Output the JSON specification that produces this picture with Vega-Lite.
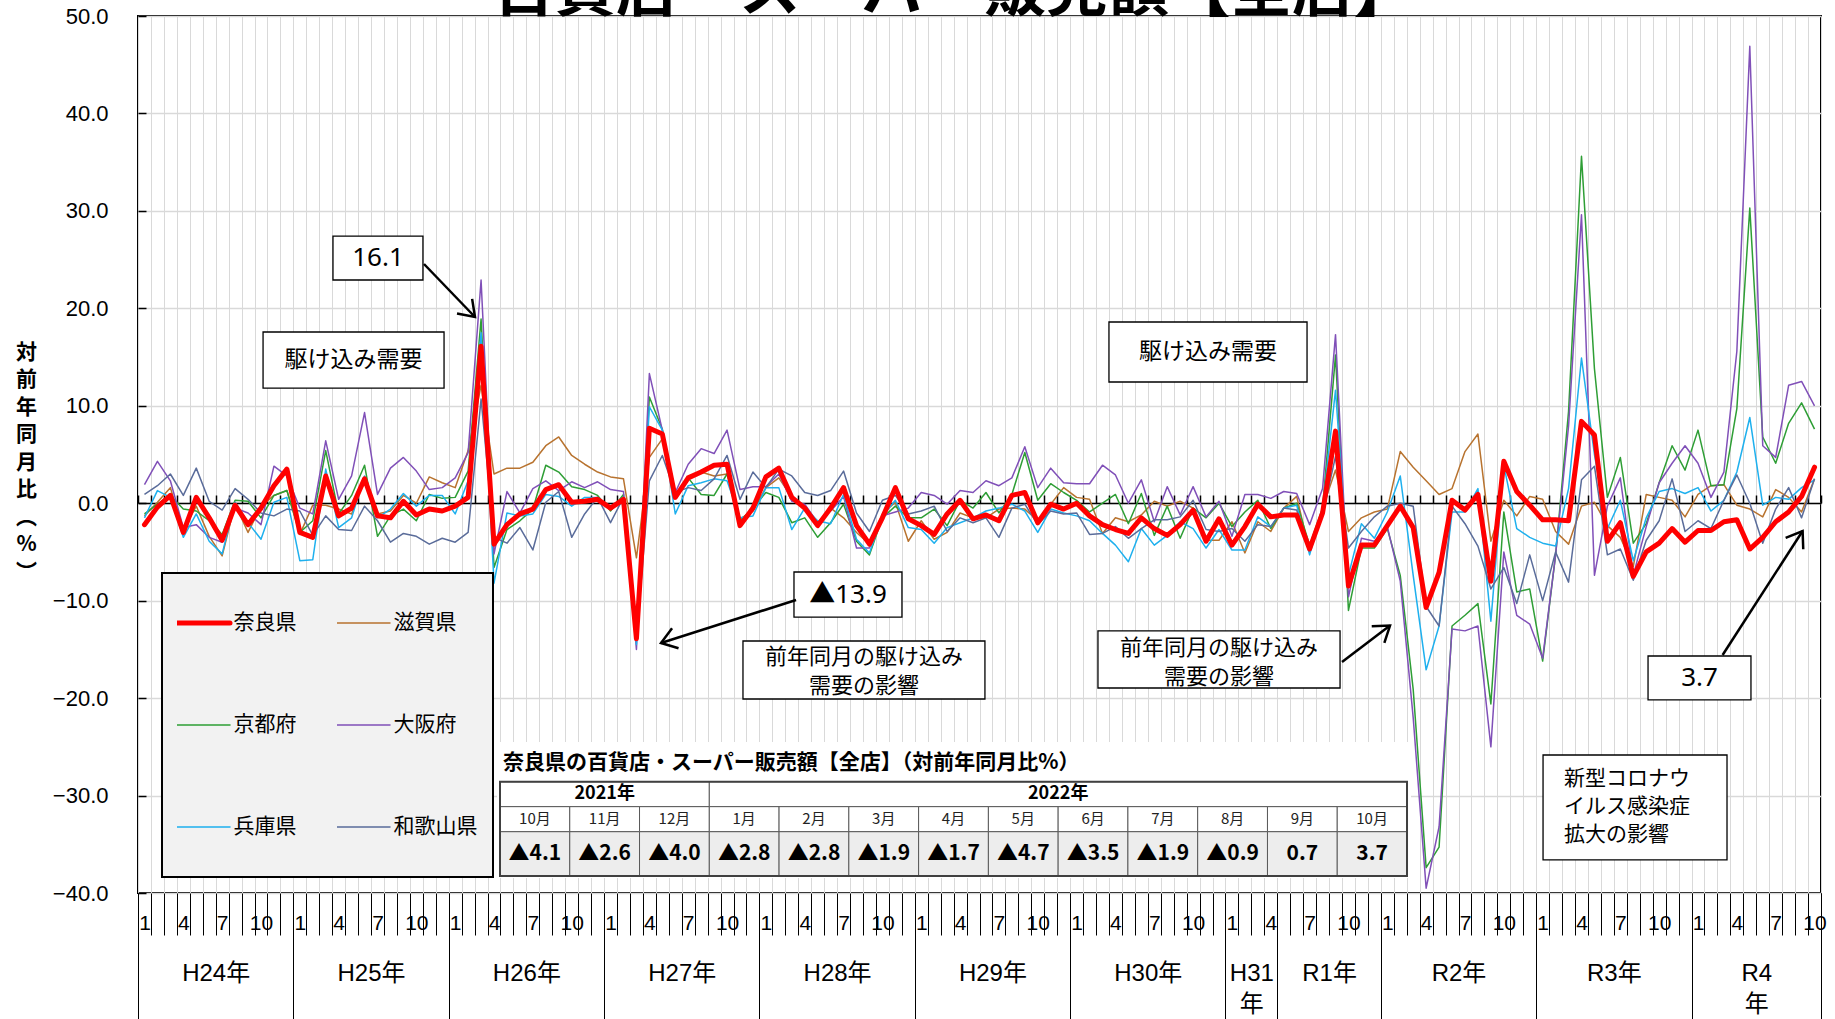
{
"$schema": "https://vega.github.io/schema/vega-lite/v6.json",
"width": 1683,
"height": 877,
"autosize": {"type": "none"},
"padding": {"left": 138, "top": 16, "right": 14, "bottom": 126},
"background": "white",
"config": {"view": {"stroke": "black", "strokeWidth": 2}, "axis": {"labelColor": "black", "tickColor": "black"}},
"datasets": {
"series": [
{"i":1,"奈良県":-2.2,"滋賀県":-1.3,"京都府":-1.1,"大阪府":1.9,"兵庫県":-1.5,"和歌山県":0.9},
{"i":2,"奈良県":-0.4,"滋賀県":0.1,"京都府":-0.1,"大阪府":4.3,"兵庫県":1.3,"和歌山県":1.8},
{"i":3,"奈良県":0.8,"滋賀県":1.6,"京都府":0.8,"大阪府":2.3,"兵庫県":0.6,"和歌山県":3.0},
{"i":4,"奈良県":-3.0,"滋賀県":-2.8,"京都府":-0.6,"大阪府":-2.5,"兵庫県":-3.5,"和歌山県":0.8},
{"i":5,"奈良県":0.6,"滋賀県":-0.3,"京都府":-0.8,"大阪府":-2.2,"兵庫県":-1.1,"和歌山県":3.6},
{"i":6,"奈良県":-1.5,"滋賀県":-3.4,"京都府":-1.8,"大阪府":-3.5,"兵庫県":-3.9,"和歌山県":0.2},
{"i":7,"奈良県":-3.8,"滋賀県":-5.4,"京都府":-3.2,"大阪府":-4.0,"兵庫県":-5.2,"和歌山県":-0.7},
{"i":8,"奈良県":-0.2,"滋賀県":-0.1,"京都府":0.3,"大阪府":-0.5,"兵庫県":0.1,"和歌山県":1.5},
{"i":9,"奈良県":-2.2,"滋賀県":-3.0,"京都府":0.2,"大阪府":-1.0,"兵庫県":-2.0,"和歌山県":0.4},
{"i":10,"奈良県":-0.5,"滋賀県":-0.3,"京都府":-1.5,"大阪府":-2.2,"兵庫県":-3.7,"和歌山県":-1.0},
{"i":11,"奈良県":1.8,"滋賀県":0.8,"京都府":0.8,"大阪府":3.8,"兵庫県":0.1,"和歌山県":-1.3},
{"i":12,"奈良県":3.5,"滋賀県":1.3,"京都府":1.3,"大阪府":2.8,"兵庫県":0.6,"和歌山県":-0.6},
{"i":13,"奈良県":-3.0,"滋賀県":-3.2,"京都府":-3.0,"大阪府":-0.5,"兵庫県":-5.9,"和歌山県":-0.8},
{"i":14,"奈良県":-3.5,"滋賀県":-0.2,"京都府":-1.8,"大阪府":-1.1,"兵庫県":-5.8,"和歌山県":-3.3},
{"i":15,"奈良県":2.8,"滋賀県":-0.2,"京都府":5.4,"大阪府":6.4,"兵庫県":3.5,"和歌山県":-1.3},
{"i":16,"奈良県":-1.3,"滋賀県":-0.6,"京都府":-1.1,"大阪府":0.4,"兵庫県":-2.5,"和歌山県":-2.7},
{"i":17,"奈良県":-0.5,"滋賀県":-1.1,"京都府":0.8,"大阪府":2.8,"兵庫県":-1.5,"和歌山県":-2.8},
{"i":18,"奈良県":2.5,"滋賀県":2.7,"京都府":3.9,"大阪府":9.3,"兵庫県":2.8,"和歌山県":-0.3},
{"i":19,"奈良県":-1.3,"滋賀県":-1.1,"京都府":-3.4,"大阪府":0.9,"兵庫県":-1.5,"和歌山県":-1.8},
{"i":20,"奈良県":-1.5,"滋賀県":-0.8,"京都府":-1.3,"大阪府":3.6,"兵庫県":-0.6,"和歌山県":-4.0},
{"i":21,"奈良県":0.2,"滋賀県":0.8,"京都府":-0.6,"大阪府":4.7,"兵庫県":1.0,"和歌山県":-3.1},
{"i":22,"奈良県":-1.2,"滋賀県":0.0,"京都府":-1.8,"大阪府":3.3,"兵庫県":-0.3,"和歌山県":-3.4},
{"i":23,"奈良県":-0.6,"滋賀県":2.7,"京都府":0.9,"大阪府":1.4,"兵庫県":0.8,"和歌山県":-4.2},
{"i":24,"奈良県":-0.8,"滋賀県":2.1,"京都府":0.5,"大阪府":1.6,"兵庫県":0.8,"和歌山県":-3.6},
{"i":25,"奈良県":-0.3,"滋賀県":1.6,"京都府":0.6,"大阪府":2.6,"兵庫県":-1.1,"和歌山県":-4.0},
{"i":26,"奈良県":0.6,"滋賀県":5.4,"京都府":3.3,"大阪府":5.2,"兵庫県":2.3,"和歌山県":-3.0},
{"i":27,"奈良県":16.1,"滋賀県":12.1,"京都府":18.9,"大阪府":22.9,"兵庫県":17.5,"和歌山県":10.7},
{"i":28,"奈良県":-4.2,"滋賀県":3.0,"京都府":-6.6,"大阪府":-5.2,"兵庫県":-8.2,"和歌山県":-3.5},
{"i":29,"奈良県":-2.2,"滋賀県":3.6,"京都府":-2.7,"大阪府":1.2,"兵庫県":-1.0,"和歌山県":-4.1},
{"i":30,"奈良県":-1.1,"滋賀県":3.6,"京都府":-1.8,"大阪府":-1.0,"兵庫県":-1.3,"和歌山県":-2.5},
{"i":31,"奈良県":-0.6,"滋賀県":4.2,"京都府":-0.6,"大阪府":1.5,"兵庫県":-1.1,"和歌山県":-4.8},
{"i":32,"奈良県":1.4,"滋賀県":5.9,"京都府":3.9,"大阪府":2.3,"兵庫県":0.9,"和歌山県":0.1},
{"i":33,"奈良県":1.9,"滋賀県":6.8,"京都府":3.2,"大阪府":1.3,"兵庫県":0.7,"和歌山県":1.2},
{"i":34,"奈良県":0.1,"滋賀県":4.9,"京都府":1.7,"大阪府":2.2,"兵庫県":-0.3,"和歌山県":-3.5},
{"i":35,"奈良県":0.2,"滋賀県":4.0,"京都府":1.4,"大阪府":1.6,"兵庫県":0.6,"和歌山県":-1.1},
{"i":36,"奈良県":0.4,"滋賀県":3.2,"京都府":0.8,"大阪府":2.2,"兵庫県":0.6,"和歌山県":0.6},
{"i":37,"奈良県":-0.5,"滋賀県":2.7,"京都府":-0.8,"大阪府":1.4,"兵庫県":-0.5,"和歌山県":-2.0},
{"i":38,"奈良県":0.4,"滋賀県":2.5,"京都府":0.9,"大阪府":1.2,"兵庫県":0.6,"和歌山県":0.6},
{"i":39,"奈良県":-13.9,"滋賀県":-5.6,"京都府":-13.5,"大阪府":-15.0,"兵庫県":-14.5,"和歌山県":-14.0},
{"i":40,"奈良県":7.7,"滋賀県":4.7,"京都府":10.9,"大阪府":13.3,"兵庫県":9.9,"和歌山県":2.3},
{"i":41,"奈良県":7.1,"滋賀県":6.6,"京都府":7.6,"大阪府":7.5,"兵庫県":7.5,"和歌山県":4.9},
{"i":42,"奈良県":0.6,"滋賀県":0.8,"京都府":0.8,"大阪府":1.1,"兵庫県":-1.1,"和歌山県":1.1},
{"i":43,"奈良県":2.6,"滋賀県":2.6,"京都府":2.6,"大阪府":4.0,"兵庫県":1.8,"和歌山県":1.6},
{"i":44,"奈良県":3.2,"滋賀県":3.2,"京都府":0.9,"大阪府":5.6,"兵庫県":2.1,"和歌山県":1.3},
{"i":45,"奈良県":3.9,"滋賀県":2.8,"京都府":0.8,"大阪府":5.1,"兵庫県":2.5,"和歌山県":2.5},
{"i":46,"奈良県":4.0,"滋賀県":3.0,"京都府":3.0,"大阪府":7.5,"兵庫県":2.3,"和歌山県":4.9},
{"i":47,"奈良県":-2.3,"滋賀県":-1.6,"京都府":-1.8,"大阪府":1.4,"兵庫県":-1.5,"和歌山県":0.4},
{"i":48,"奈良県":-0.5,"滋賀県":-0.8,"京都府":-0.5,"大阪府":1.7,"兵庫県":-1.3,"和歌山県":3.2},
{"i":49,"奈良県":2.7,"滋賀県":1.6,"京都府":1.1,"大阪府":1.7,"兵庫県":1.6,"和歌山県":1.6},
{"i":50,"奈良県":3.6,"滋賀県":2.6,"京都府":0.6,"大阪府":3.0,"兵庫県":1.6,"和歌山県":3.5},
{"i":51,"奈良県":0.6,"滋賀県":0.6,"京都府":-2.0,"大阪府":0.2,"兵庫県":-2.7,"和歌山県":2.8},
{"i":52,"奈良県":-0.5,"滋賀県":-0.5,"京都府":-1.5,"大阪府":-0.1,"兵庫県":-0.5,"和歌山県":1.1},
{"i":53,"奈良県":-2.3,"滋賀県":-2.0,"京都府":-3.5,"大阪府":-2.0,"兵庫県":-1.8,"和歌山県":0.8},
{"i":54,"奈良県":-0.5,"滋賀県":-0.5,"京都府":-2.0,"大阪府":-0.8,"兵庫県":-2.1,"和歌山県":1.3},
{"i":55,"奈良県":1.6,"滋賀県":-1.5,"京都府":-0.1,"大阪府":0.7,"兵庫県":0.9,"和歌山県":3.3},
{"i":56,"奈良県":-2.3,"滋賀県":-3.0,"京都府":-3.9,"大阪府":-4.6,"兵庫県":-3.7,"和歌山県":-1.0},
{"i":57,"奈良県":-4.2,"滋賀県":-4.2,"京都府":-5.3,"大阪府":-4.6,"兵庫県":-5.1,"和歌山県":-2.9},
{"i":58,"奈良県":-1.5,"滋賀県":-1.1,"京都府":-1.5,"大阪府":-1.3,"兵庫県":-1.3,"和歌山県":0.3},
{"i":59,"奈良県":1.6,"滋賀県":0.1,"京都府":-0.3,"大阪府":-0.9,"兵庫県":0.3,"和歌山県":0.8},
{"i":60,"奈良県":-1.6,"滋賀県":-3.9,"京都府":-1.5,"大阪府":-0.5,"兵庫県":-2.5,"和歌山県":-1.1},
{"i":61,"奈良県":-2.3,"滋賀県":-1.8,"京都府":-1.5,"大阪府":1.1,"兵庫県":-2.7,"和歌山県":-0.8},
{"i":62,"奈良県":-3.2,"滋賀県":-3.7,"京都府":-0.6,"大阪府":0.8,"兵庫県":-4.1,"和歌山県":-0.3},
{"i":63,"奈良県":-1.1,"滋賀県":-3.0,"京都府":-2.3,"大阪府":-0.1,"兵庫県":-2.5,"和歌山県":-2.9},
{"i":64,"奈良県":0.3,"滋賀県":-1.0,"京都府":0.3,"大阪府":1.3,"兵庫県":-2.0,"和歌山県":-1.5},
{"i":65,"奈良県":-1.6,"滋賀県":-1.5,"京都府":-0.5,"大阪府":1.1,"兵庫県":-1.5,"和歌山県":-2.0},
{"i":66,"奈良県":-1.2,"滋賀県":-1.5,"京都府":1.1,"大阪府":2.3,"兵庫県":-0.8,"和歌山県":-1.5},
{"i":67,"奈良県":-1.8,"滋賀県":-0.6,"京都府":-1.0,"大阪府":1.8,"兵庫県":-0.5,"和歌山県":-3.5},
{"i":68,"奈良県":0.8,"滋賀県":-0.5,"京都府":0.9,"大阪府":2.6,"兵庫県":-0.1,"和歌山県":-0.5},
{"i":69,"奈良県":1.1,"滋賀県":-0.6,"京都府":5.2,"大阪府":5.8,"兵庫県":-0.8,"和歌山県":-0.1},
{"i":70,"奈良県":-2.0,"滋賀県":-1.8,"京都府":0.3,"大阪府":1.6,"兵庫県":-3.0,"和歌山県":-2.2},
{"i":71,"奈良県":-0.1,"滋賀県":-0.1,"京都府":2.0,"大阪府":3.6,"兵庫県":-0.6,"和歌山県":-0.8},
{"i":72,"奈良県":-0.6,"滋賀県":1.6,"京都府":1.1,"大阪府":2.1,"兵庫県":-1.0,"和歌山県":-1.1},
{"i":73,"奈良県":0.0,"滋賀県":0.6,"京都府":0.3,"大阪府":2.0,"兵庫県":-1.3,"和歌山県":-1.0},
{"i":74,"奈良県":-1.3,"滋賀県":0.4,"京都府":-0.9,"大阪府":2.0,"兵庫県":-1.8,"和歌山県":-3.2},
{"i":75,"奈良県":-2.2,"滋賀県":-3.1,"京都府":0.0,"大阪府":3.9,"兵庫県":-3.1,"和歌山県":-3.1},
{"i":76,"奈良県":-2.7,"滋賀県":-1.5,"京都府":0.9,"大阪府":2.9,"兵庫県":-4.3,"和歌山県":-2.4},
{"i":77,"奈良県":-3.1,"滋賀県":-1.9,"京都府":-2.1,"大阪府":0.0,"兵庫県":-6.0,"和歌山県":-3.6},
{"i":78,"奈良県":-1.5,"滋賀県":-1.2,"京都府":1.0,"大阪府":2.4,"兵庫県":-2.6,"和歌山県":-2.6},
{"i":79,"奈良県":-2.6,"滋賀県":0.2,"京都府":-3.3,"大阪府":-1.9,"兵庫県":-4.3,"和歌山県":-1.7},
{"i":80,"奈良県":-3.3,"滋賀県":-0.3,"京都府":-0.3,"大阪府":1.7,"兵庫県":-3.3,"和歌山県":-1.7},
{"i":81,"奈良県":-2.2,"滋賀県":0.2,"京都府":-3.6,"大阪府":-1.2,"兵庫県":-1.9,"和歌山県":-1.4},
{"i":82,"奈良県":-0.7,"滋賀県":-0.5,"京都府":-0.5,"大阪府":1.7,"兵庫県":-2.6,"和歌山県":0.3},
{"i":83,"奈良県":-3.9,"滋賀県":-3.8,"京都府":-1.5,"大阪府":-1.4,"兵庫県":-4.6,"和歌山県":-2.7},
{"i":84,"奈良県":-1.6,"滋賀県":-3.8,"京都府":0.0,"大阪府":0.2,"兵庫県":-2.7,"和歌山県":-2.9},
{"i":85,"奈良県":-4.3,"滋賀県":-1.9,"京都府":-2.4,"大阪府":-3.4,"兵庫県":-4.8,"和歌山県":-2.6},
{"i":86,"奈良県":-2.4,"滋賀県":-5.1,"京都府":-0.9,"大阪府":0.9,"兵庫県":-4.8,"和歌山県":-3.9},
{"i":87,"奈良県":-0.1,"滋賀県":-1.9,"京都府":0.3,"大阪府":0.9,"兵庫県":-1.4,"和歌山県":-2.2},
{"i":88,"奈良県":-1.4,"滋賀県":-2.9,"京都府":-2.6,"大阪府":0.5,"兵庫県":-2.4,"和歌山県":-2.4},
{"i":89,"奈良県":-1.2,"滋賀県":-0.5,"京都府":-0.5,"大阪府":1.2,"兵庫県":-0.5,"和歌山県":-0.5},
{"i":90,"奈良県":-1.2,"滋賀県":0.7,"京都府":0.0,"大阪府":1.0,"兵庫県":-0.2,"和歌山県":-0.7},
{"i":91,"奈良県":-4.7,"滋賀県":-5.0,"京都府":-4.3,"大阪府":-2.2,"兵庫県":-5.3,"和歌山県":-4.6},
{"i":92,"奈良県":-1.0,"滋賀県":-0.5,"京都府":-0.5,"大阪府":1.5,"兵庫県":-0.5,"和歌山県":-1.2},
{"i":93,"奈良県":7.4,"滋賀県":3.4,"京都府":15.2,"大阪府":17.3,"兵庫県":11.6,"和歌山県":4.8},
{"i":94,"奈良県":-8.5,"滋賀県":-2.9,"京都府":-11.0,"大阪府":-9.6,"兵庫県":-7.4,"和歌山県":-4.6},
{"i":95,"奈良県":-4.3,"滋賀県":-1.5,"京都府":-4.6,"大阪府":-3.6,"兵庫県":-2.1,"和歌山県":-2.9},
{"i":96,"奈良県":-4.3,"滋賀県":-0.9,"京都府":-4.6,"大阪府":-3.9,"兵庫県":-3.6,"和歌山県":-1.4},
{"i":97,"奈良県":-2.3,"滋賀県":-0.6,"京都府":-2.6,"大阪府":-2.4,"兵庫県":-0.9,"和歌山県":-0.3},
{"i":98,"奈良県":-0.3,"滋賀県":5.3,"京都府":-7.4,"大阪府":-8.0,"兵庫県":2.8,"和歌山県":0.0},
{"i":99,"奈良県":-2.5,"滋賀県":3.7,"京都府":-19.1,"大阪府":-22.0,"兵庫県":-7.4,"和歌山県":-0.3},
{"i":100,"奈良県":-10.7,"滋賀県":2.3,"京都府":-37.4,"大阪府":-39.5,"兵庫県":-17.1,"和歌山県":-10.6},
{"i":101,"奈良県":-7.1,"滋賀県":0.9,"京都府":-35.3,"大阪府":-33.2,"兵庫県":-12.6,"和歌山県":-12.6},
{"i":102,"奈良県":0.3,"滋賀県":1.5,"京都府":-12.6,"大阪府":-12.9,"兵庫県":-0.9,"和歌山県":-0.3},
{"i":103,"奈良県":-0.7,"滋賀県":5.3,"京都府":-11.5,"大阪府":-13.1,"兵庫県":-0.9,"和歌山県":-2.1},
{"i":104,"奈良県":0.9,"滋賀県":7.1,"京都府":-10.3,"大阪府":-12.6,"兵庫県":1.5,"和歌山県":-4.4},
{"i":105,"奈良県":-8.0,"滋賀県":-3.9,"京都府":-20.6,"大阪府":-25.0,"兵庫県":-12.1,"和歌山県":-8.8},
{"i":106,"奈良県":4.3,"滋賀県":0.3,"京都府":-0.9,"大阪府":-5.0,"兵庫県":3.9,"和歌山県":-6.6},
{"i":107,"奈良県":1.2,"滋賀県":-1.3,"京都府":-9.1,"大阪府":-11.5,"兵庫県":-2.6,"和歌山県":-10.3},
{"i":108,"奈良県":-0.2,"滋賀県":0.7,"京都府":-8.8,"大阪府":-12.4,"兵庫県":-3.5,"和歌山県":-5.3},
{"i":109,"奈良県":-1.7,"滋賀県":0.4,"京都府":-16.2,"大阪府":-15.9,"兵庫県":-4.1,"和歌山県":-10.0},
{"i":110,"奈良県":-1.7,"滋賀県":-2.9,"京都府":-5.3,"大阪府":-5.3,"兵庫県":-4.4,"和歌山県":-5.0},
{"i":111,"奈良県":-1.8,"滋賀県":-4.2,"京都府":9.4,"大阪府":7.9,"兵庫県":1.5,"和歌山県":-8.1},
{"i":112,"奈良県":8.4,"滋賀県":-0.3,"京都府":35.6,"大阪府":29.6,"兵庫県":14.9,"和歌山県":2.4},
{"i":113,"奈良県":7.0,"滋賀県":0.1,"京都府":13.8,"大阪府":-7.4,"兵庫県":5.0,"和歌山県":3.8},
{"i":114,"奈良県":-3.9,"滋賀県":-2.3,"京都府":0.6,"大阪府":-0.3,"兵庫県":-2.6,"和歌山県":-5.3},
{"i":115,"奈良県":-2.0,"滋賀県":-3.5,"京都府":4.7,"大阪府":2.6,"兵庫県":0.3,"和歌山県":-4.7},
{"i":116,"奈良県":-7.5,"滋賀県":-6.5,"京都府":-4.1,"大阪府":-7.4,"兵庫県":-5.9,"和歌山県":-7.9},
{"i":117,"奈良県":-5.0,"滋賀県":0.9,"京都府":-2.1,"大阪府":-2.4,"兵庫県":-1.5,"和歌山県":-3.8},
{"i":118,"奈良県":-4.1,"滋賀県":0.6,"京都府":2.1,"大阪府":2.1,"兵庫県":1.2,"和歌山県":-1.8},
{"i":119,"奈良県":-2.6,"滋賀県":0.3,"京都府":5.9,"大阪府":4.1,"兵庫県":1.5,"和歌山県":2.5},
{"i":120,"奈良県":-4.0,"滋賀県":-1.4,"京都府":3.4,"大阪府":5.9,"兵庫県":1.0,"和歌山県":-2.9},
{"i":121,"奈良県":-2.8,"滋賀県":0.9,"京都府":7.5,"大阪府":4.1,"兵庫県":1.6,"和歌山県":-1.8},
{"i":122,"奈良県":-2.8,"滋賀県":1.8,"京都府":1.8,"大阪府":0.6,"兵庫県":-0.8,"和歌山県":-2.6},
{"i":123,"奈良県":-1.9,"滋賀県":1.9,"京都府":1.9,"大阪府":3.2,"兵庫県":0.3,"和歌山県":0.3},
{"i":124,"奈良県":-1.7,"滋賀県":-0.2,"京都府":9.7,"大阪府":15.6,"兵庫県":3.2,"和歌山県":2.9},
{"i":125,"奈良県":-4.7,"滋賀県":-0.6,"京都府":30.3,"大阪府":46.9,"兵庫県":8.8,"和歌山県":0.0},
{"i":126,"奈良県":-3.5,"滋賀県":-1.4,"京都府":6.8,"大阪府":5.9,"兵庫県":-0.2,"和歌山県":-4.1},
{"i":127,"奈良県":-1.9,"滋賀県":1.4,"京都府":4.1,"大阪府":4.7,"兵庫県":0.6,"和歌山県":-0.6},
{"i":128,"奈良県":-0.9,"滋賀県":0.6,"京都府":8.2,"大阪府":12.1,"兵庫県":0.4,"和歌山県":1.6},
{"i":129,"奈良県":0.7,"滋賀県":-0.9,"京都府":10.3,"大阪府":12.5,"兵庫県":1.6,"和歌山県":-1.5},
{"i":130,"奈良県":3.7,"滋賀県":2.5,"京都府":7.6,"大阪府":10.0,"兵庫県":2.4,"和歌山県":2.5}
],
"table": [
{"year":"2021年","month":"10月","value":"▲4.1"},
{"year":"2021年","month":"11月","value":"▲2.6"},
{"year":"2021年","month":"12月","value":"▲4.0"},
{"year":"2022年","month":"1月","value":"▲2.8"},
{"year":"2022年","month":"2月","value":"▲2.8"},
{"year":"2022年","month":"3月","value":"▲1.9"},
{"year":"2022年","month":"4月","value":"▲1.7"},
{"year":"2022年","month":"5月","value":"▲4.7"},
{"year":"2022年","month":"6月","value":"▲3.5"},
{"year":"2022年","month":"7月","value":"▲1.9"},
{"year":"2022年","month":"8月","value":"▲0.9"},
{"year":"2022年","month":"9月","value":"0.7"},
{"year":"2022年","month":"10月","value":"3.7"}
]
},
"layer": [
{
"resolve": {"axis": {"x": "independent"}},
"layer": [
{
"data": {"name": "series"},
"transform": [{"fold": ["滋賀県","京都府","大阪府","兵庫県","和歌山県"], "as": ["s","v"]}],
"mark": {"type": "line", "strokeWidth": 1.5, "strokeJoin": "round"},
"encoding": {
"x": {"field": "i", "type": "quantitative", "scale": {"domain": [0.5,130.5], "nice": false, "zero": false},
 "axis": {"orient": "bottom", "values": [0.5,1.5,2.5,3.5,4.5,5.5,6.5,7.5,8.5,9.5,10.5,11.5,12.5,13.5,14.5,15.5,16.5,17.5,18.5,19.5,20.5,21.5,22.5,23.5,24.5,25.5,26.5,27.5,28.5,29.5,30.5,31.5,32.5,33.5,34.5,35.5,36.5,37.5,38.5,39.5,40.5,41.5,42.5,43.5,44.5,45.5,46.5,47.5,48.5,49.5,50.5,51.5,52.5,53.5,54.5,55.5,56.5,57.5,58.5,59.5,60.5,61.5,62.5,63.5,64.5,65.5,66.5,67.5,68.5,69.5,70.5,71.5,72.5,73.5,74.5,75.5,76.5,77.5,78.5,79.5,80.5,81.5,82.5,83.5,84.5,85.5,86.5,87.5,88.5,89.5,90.5,91.5,92.5,93.5,94.5,95.5,96.5,97.5,98.5,99.5,100.5,101.5,102.5,103.5,104.5,105.5,106.5,107.5,108.5,109.5,110.5,111.5,112.5,113.5,114.5,115.5,116.5,117.5,118.5,119.5,120.5,121.5,122.5,123.5,124.5,125.5,126.5,127.5,128.5,129.5,130.5],
 "grid": true, "gridColor": "#D9D9D9", "gridWidth": 1, "ticks": true, "tickSize": 42, "tickColor": "black", "tickWidth": 1, "labels": false, "domain": false, "title": null}},
"y": {"field": "v", "type": "quantitative", "scale": {"domain": [-40,50], "nice": false, "zero": false},
 "axis": {"values": [-40,-30,-20,-10,0,10,20,30,40,50], "format": ".1f", "grid": true, "gridColor": "#D9D9D9", "gridWidth": 1.5, "domain": false, "ticks": true, "tickSize": -8, "tickColor": "black", "tickWidth": 1.5, "labelFont": "Liberation Sans", "labelFontSize": 22, "labelColor": "black", "labelPadding": 38, "labelFlush": false, "labelOverlap": false,
 "title": ["対","前","年","同","月","比","︵","%","︶"], "titleAngle": 0, "titleX": -112, "titleY": 336, "titleAlign": "center", "titleBaseline": "middle", "titleFont": "Noto Sans CJK JP", "titleFontSize": 21, "titleFontWeight": "bold", "titleLineHeight": 27.5, "titleColor": "black"}},
"color": {"field": "s", "type": "nominal",
 "scale": {"domain": ["奈良県","滋賀県","京都府","大阪府","兵庫県","和歌山県"], "range": ["#FF0000","#B8732F","#2E9E35","#8050B8","#1EB0EE","#5A6C9A"]},
 "legend": {"orient": "none", "legendX": 24, "legendY": 557, "columns": 2, "direction": "horizontal", "title": null, "zindex": 1,
  "symbolType": "stroke", "symbolSize": 2809, "symbolStrokeWidth": 1.5, "symbolOffset": 16, "clipHeight": 70,
  "labelFont": "Noto Sans CJK JP", "labelFontSize": 21, "labelColor": "black", "labelOffset": 19.5, "labelBaseline": "middle",
  "rowPadding": 32, "columnPadding": 40, "padding": 15, "fillColor": "#F2F2F2", "strokeColor": "black",
  "encode": {"legend": {"update": {"strokeWidth": {"value": 2}}}, "symbols": {"update": {"strokeWidth": {"signal": "datum.value === '奈良県' ? 5 : 1.5"}, "strokeCap": {"value": "round"}}}}}}
}
},
{
"data": {"name": "series"},
"transform": [{"fold": ["奈良県"], "as": ["s","v"]}],
"mark": {"type": "line", "strokeWidth": 5, "strokeJoin": "round", "strokeCap": "round"},
"encoding": {
"x": {"field": "i", "type": "quantitative", "scale": {"domain": [0.5,130.5], "nice": false, "zero": false},
 "axis": {"orient": "bottom", "values": [1,4,7,10,13,16,19,22,25,28,31,34,37,40,43,46,49,52,55,58,61,64,67,70,73,76,79,82,85,88,91,94,97,100,103,106,109,112,115,118,121,124,127,130],
 "labelExpr": "(datum.value - 1) % 12 + 1", "ticks": false, "tickSize": 0, "domain": false, "grid": false,
 "labelFont": "Liberation Sans", "labelFontSize": 21, "labelColor": "black", "labelPadding": 30, "labelBaseline": "middle", "labelFlush": false, "labelOverlap": false, "title": null}},
"y": {"field": "v", "type": "quantitative", "scale": {"domain": [-40,50], "nice": false, "zero": false}},
"color": {"field": "s", "type": "nominal", "scale": {"domain": ["奈良県","滋賀県","京都府","大阪府","兵庫県","和歌山県"], "range": ["#FF0000","#B8732F","#2E9E35","#8050B8","#1EB0EE","#5A6C9A"]}}
}
},
{
"data": {"values": [{}]},
"mark": {"type": "rect", "fill": "white", "stroke": "black", "strokeWidth": 1.3},
"encoding": {
"x": {"datum": 15.56, "type": "quantitative", "scale": {"domain": [0.5,130.5], "nice": false, "zero": false},
 "axis": {"orient": "bottom", "values": [0.5,12.5,24.5,36.5,48.5,60.5,72.5,84.5,88.5,96.5,108.5,120.5,130.5], "ticks": true, "tickSize": 126, "tickColor": "black", "tickWidth": 1, "labels": false, "domain": false, "grid": false, "title": null}},
"x2": {"datum": 22.51},
"y": {"datum": 27.42, "type": "quantitative", "scale": {"domain": [-40,50], "nice": false, "zero": false}},
"y2": {"datum": 22.91}
}
},
{
"data": {"values": [{}]},
"mark": {"type": "text", "text": "16.1", "font": "Noto Sans", "fontSize": 26, "align": "center", "baseline": "middle", "color": "black"},
"encoding": {
"x": {"datum": 19.04, "type": "quantitative", "scale": {"domain": [0.5,130.5], "nice": false, "zero": false},
 "axis": {"orient": "bottom", "values": [6.5,18.5,30.5,42.5,54.5,66.5,78.5,86.5,92.5,102.5,114.5,125.5],
 "labelExpr": "['H24年','H25年','H26年','H27年','H28年','H29年','H30年',['H31','年'],'R1年','R2年','R3年',['R4','年']][indexof([6.5,18.5,30.5,42.5,54.5,66.5,78.5,86.5,92.5,102.5,114.5,125.5], datum.value)]",
 "ticks": false, "tickSize": 0, "domain": false, "grid": false, "labelFont": "Liberation Sans, Noto Sans CJK JP", "labelFontSize": 24, "labelColor": "black", "labelPadding": 68, "labelBaseline": "top", "labelLineHeight": 31, "labelFlush": false, "labelOverlap": false, "title": null}},
"y": {"datum": 25.17, "type": "quantitative", "scale": {"domain": [-40,50], "nice": false, "zero": false}}
}
},
{
"data": {"values": [{}]},
"mark": {"type": "rect", "fill": "white", "stroke": "black", "strokeWidth": 1.3},
"encoding": {
"x": {"datum": 10.16, "type": "quantitative", "scale": {"domain": [0.5,130.5], "nice": false, "zero": false},
 "axis": {"orient": "top", "offset": -487, "values": [0.5,1.5,2.5,3.5,4.5,5.5,6.5,7.5,8.5,9.5,10.5,11.5,12.5,13.5,14.5,15.5,16.5,17.5,18.5,19.5,20.5,21.5,22.5,23.5,24.5,25.5,26.5,27.5,28.5,29.5,30.5,31.5,32.5,33.5,34.5,35.5,36.5,37.5,38.5,39.5,40.5,41.5,42.5,43.5,44.5,45.5,46.5,47.5,48.5,49.5,50.5,51.5,52.5,53.5,54.5,55.5,56.5,57.5,58.5,59.5,60.5,61.5,62.5,63.5,64.5,65.5,66.5,67.5,68.5,69.5,70.5,71.5,72.5,73.5,74.5,75.5,76.5,77.5,78.5,79.5,80.5,81.5,82.5,83.5,84.5,85.5,86.5,87.5,88.5,89.5,90.5,91.5,92.5,93.5,94.5,95.5,96.5,97.5,98.5,99.5,100.5,101.5,102.5,103.5,104.5,105.5,106.5,107.5,108.5,109.5,110.5,111.5,112.5,113.5,114.5,115.5,116.5,117.5,118.5,119.5,120.5,121.5,122.5,123.5,124.5,125.5,126.5,127.5,128.5,129.5,130.5],
 "ticks": true, "tickSize": 8, "tickColor": "black", "tickWidth": 1.5, "labels": false, "domain": true, "domainColor": "black", "domainWidth": 1.5, "grid": false, "title": null}},
"x2": {"datum": 24.14},
"y": {"datum": 17.57, "type": "quantitative", "scale": {"domain": [-40,50], "nice": false, "zero": false}},
"y2": {"datum": 11.82}
}
},
{
"data": {"values": [{}]},
"mark": {"type": "text", "text": "百貨店・スーパー販売額【全店】", "font": "Noto Sans CJK JP", "fontSize": 61.5, "fontWeight": "bold", "align": "center", "baseline": "alphabetic", "color": "black"},
"encoding": {"x": {"datum": 63.53, "type": "quantitative", "axis": null}, "y": {"datum": 50.56, "type": "quantitative"}}
},
{
"data": {"values": [{}]},
"mark": {"type": "text", "text": "駆け込み需要", "font": "Noto Sans CJK JP", "fontSize": 23, "align": "center", "baseline": "middle", "color": "black"},
"encoding": {"x": {"datum": 17.15, "type": "quantitative", "axis": null}, "y": {"datum": 14.70, "type": "quantitative"}}
},
{
"data": {"values": [{}]},
"mark": {"type": "rect", "fill": "white", "stroke": "black", "strokeWidth": 1.3},
"encoding": {"x": {"datum": 75.5, "type": "quantitative", "axis": null}, "x2": {"datum": 90.8}, "y": {"datum": 18.60, "type": "quantitative"}, "y2": {"datum": 12.44}}
},
{
"data": {"values": [{}]},
"mark": {"type": "text", "text": "駆け込み需要", "font": "Noto Sans CJK JP", "fontSize": 23, "align": "center", "baseline": "middle", "color": "black"},
"encoding": {"x": {"datum": 83.15, "type": "quantitative", "axis": null}, "y": {"datum": 15.52, "type": "quantitative"}}
},
{
"data": {"values": [{}]},
"mark": {"type": "rect", "fill": "white", "stroke": "black", "strokeWidth": 1.3},
"encoding": {"x": {"datum": 51.17, "type": "quantitative", "axis": null}, "x2": {"datum": 59.51}, "y": {"datum": -7.06, "type": "quantitative"}, "y2": {"datum": -11.68}}
},
{
"data": {"values": [{}]},
"mark": {"type": "text", "text": "▲13.9", "font": "Noto Sans, Noto Sans CJK JP", "fontSize": 26, "align": "center", "baseline": "middle", "color": "black"},
"encoding": {"x": {"datum": 55.34, "type": "quantitative", "axis": null}, "y": {"datum": -9.37, "type": "quantitative"}}
},
{
"data": {"values": [{}]},
"mark": {"type": "rect", "fill": "white", "stroke": "black", "strokeWidth": 1.3},
"encoding": {"x": {"datum": 47.23, "type": "quantitative", "axis": null}, "x2": {"datum": 65.92}, "y": {"datum": -14.14, "type": "quantitative"}, "y2": {"datum": -20.09}}
},
{
"data": {"values": [{}]},
"mark": {"type": "text", "text": ["前年同月の駆け込み","需要の影響"], "font": "Noto Sans CJK JP", "fontSize": 22, "lineHeight": 29, "align": "center", "baseline": "middle", "color": "black"},
"encoding": {"x": {"datum": 56.58, "type": "quantitative", "axis": null}, "y": {"datum": -15.78, "type": "quantitative"}}
},
{
"data": {"values": [{}]},
"mark": {"type": "rect", "fill": "white", "stroke": "black", "strokeWidth": 1.3},
"encoding": {"x": {"datum": 74.65, "type": "quantitative", "axis": null}, "x2": {"datum": 93.35}, "y": {"datum": -13.11, "type": "quantitative"}, "y2": {"datum": -18.96}}
},
{
"data": {"values": [{}]},
"mark": {"type": "text", "text": ["前年同月の駆け込み","需要の影響"], "font": "Noto Sans CJK JP", "fontSize": 22, "lineHeight": 29, "align": "center", "baseline": "middle", "color": "black"},
"encoding": {"x": {"datum": 84.0, "type": "quantitative", "axis": null}, "y": {"datum": -14.86, "type": "quantitative"}}
},
{
"data": {"values": [{}]},
"mark": {"type": "rect", "fill": "white", "stroke": "black", "strokeWidth": 1.3},
"encoding": {"x": {"datum": 117.14, "type": "quantitative", "axis": null}, "x2": {"datum": 125.09}, "y": {"datum": -15.68, "type": "quantitative"}, "y2": {"datum": -20.19}}
},
{
"data": {"values": [{}]},
"mark": {"type": "text", "text": "3.7", "font": "Noto Sans", "fontSize": 26, "align": "center", "baseline": "middle", "color": "black"},
"encoding": {"x": {"datum": 121.12, "type": "quantitative", "axis": null}, "y": {"datum": -17.94, "type": "quantitative"}}
},
{
"data": {"values": [{}]},
"mark": {"type": "rect", "fill": "white", "stroke": "black", "strokeWidth": 1.3},
"encoding": {"x": {"datum": 109.03, "type": "quantitative", "axis": null}, "x2": {"datum": 123.24}, "y": {"datum": -25.84, "type": "quantitative"}, "y2": {"datum": -36.61}}
},
{
"data": {"values": [{}]},
"mark": {"type": "text", "text": ["新型コロナウ","イルス感染症","拡大の影響"], "font": "Noto Sans CJK JP", "fontSize": 21, "lineHeight": 28, "align": "left", "baseline": "middle", "color": "black"},
"encoding": {"x": {"datum": 110.65, "type": "quantitative", "axis": null}, "y": {"datum": -28.35, "type": "quantitative"}}
},
{
"data": {"values": [{}]},
"mark": {"type": "rule", "color": "black", "strokeWidth": 2.5},
"encoding": {"x": {"datum": 22.59, "type": "quantitative", "axis": null}, "x2": {"datum": 26.53}, "y": {"datum": 24.55, "type": "quantitative"}, "y2": {"datum": 19.11}}
},
{
"data": {"values": [{}]},
"mark": {"type": "rule", "color": "black", "strokeWidth": 2.5},
"encoding": {"x": {"datum": 51.33, "type": "quantitative", "axis": null}, "x2": {"datum": 40.90}, "y": {"datum": -9.93, "type": "quantitative"}, "y2": {"datum": -14.34}}
},
{
"data": {"values": [{}]},
"mark": {"type": "rule", "color": "black", "strokeWidth": 2.5},
"encoding": {"x": {"datum": 93.50, "type": "quantitative", "axis": null}, "x2": {"datum": 97.21}, "y": {"datum": -16.29, "type": "quantitative"}, "y2": {"datum": -12.55}}
},
{
"data": {"values": [{}]},
"mark": {"type": "rule", "color": "black", "strokeWidth": 2.5},
"encoding": {"x": {"datum": 122.9, "type": "quantitative", "axis": null}, "x2": {"datum": 129.08}, "y": {"datum": -15.58, "type": "quantitative"}, "y2": {"datum": -2.85}}
},
{
"data": {"values": [{}]},
"mark": {"type": "point", "shape": "M -1 -0.7 L 0 0 L -1 0.7", "filled": false, "stroke": "black", "strokeWidth": 2.5, "size": 900, "angle": 46, "opacity": 1},
"encoding": {"x": {"datum": 26.53, "type": "quantitative", "axis": null}, "y": {"datum": 19.11, "type": "quantitative"}}
},
{
"data": {"values": [{}]},
"mark": {"type": "point", "shape": "M -1 -0.7 L 0 0 L -1 0.7", "filled": false, "stroke": "black", "strokeWidth": 2.5, "size": 900, "angle": 162, "opacity": 1},
"encoding": {"x": {"datum": 40.90, "type": "quantitative", "axis": null}, "y": {"datum": -14.34, "type": "quantitative"}}
},
{
"data": {"values": [{}]},
"mark": {"type": "point", "shape": "M -1 -0.7 L 0 0 L -1 0.7", "filled": false, "stroke": "black", "strokeWidth": 2.5, "size": 900, "angle": 323, "opacity": 1},
"encoding": {"x": {"datum": 97.21, "type": "quantitative", "axis": null}, "y": {"datum": -12.55, "type": "quantitative"}}
},
{
"data": {"values": [{}]},
"mark": {"type": "point", "shape": "M -1 -0.7 L 0 0 L -1 0.7", "filled": false, "stroke": "black", "strokeWidth": 2.5, "size": 900, "angle": 303, "opacity": 1},
"encoding": {"x": {"datum": 129.08, "type": "quantitative", "axis": null}, "y": {"datum": -2.85, "type": "quantitative"}}
}
]
},
{
"layer": [
{
"data": {"values": [{}]},
"mark": {"type": "rect", "fill": "white"},
"encoding": {"x": {"datum": 0.457, "type": "quantitative", "scale": {"domain": [-4.6885, 19.4336], "nice": false, "zero": false}, "axis": null}, "x2": {"datum": 13.557}, "y": {"datum": -24.5, "type": "quantitative"}, "y2": {"datum": -38.46}}
},
{
"data": {"values": [{}]},
"mark": {"type": "text", "text": "奈良県の百貨店・スーパー販売額【全店】（対前年同月比%）", "font": "Noto Sans CJK JP", "fontSize": 21, "fontWeight": "bold", "align": "left", "baseline": "middle", "color": "black"},
"encoding": {"x": {"datum": 0.543, "type": "quantitative", "scale": {"domain": [-4.6885, 19.4336], "nice": false, "zero": false}, "axis": null}, "y": {"datum": -26.66, "type": "quantitative"}}
},
{
"data": {"name": "table"},
"transform": [{"window": [{"op": "row_number", "as": "n"}]}, {"aggregate": [{"op": "min", "field": "n", "as": "n0"}, {"op": "max", "field": "n", "as": "n1"}], "groupby": ["year"]}],
"mark": {"type": "rect", "fill": "white", "stroke": "#595959", "strokeWidth": 1, "xOffset": -34.9, "x2Offset": 34.9},
"encoding": {"x": {"field": "n0", "type": "quantitative", "scale": {"domain": [-4.6885, 19.4336], "nice": false, "zero": false}, "axis": null}, "x2": {"field": "n1"}, "y": {"datum": -28.58, "type": "quantitative"}, "y2": {"datum": -31.14}}
},
{
"data": {"name": "table"},
"transform": [{"window": [{"op": "row_number", "as": "n"}]}, {"aggregate": [{"op": "mean", "field": "n", "as": "nm"}], "groupby": ["year"]}],
"mark": {"type": "text", "font": "Noto Sans CJK JP", "fontSize": 18, "fontWeight": "bold", "align": "center", "baseline": "middle", "color": "black"},
"encoding": {"x": {"field": "nm", "type": "quantitative", "scale": {"domain": [-4.6885, 19.4336], "nice": false, "zero": false}, "axis": null}, "y": {"datum": -29.86, "type": "quantitative"}, "text": {"field": "year"}}
},
{
"data": {"name": "table"},
"transform": [{"window": [{"op": "row_number", "as": "n"}]}],
"mark": {"type": "rect", "fill": "white", "stroke": "#595959", "strokeWidth": 1, "xOffset": -34.9, "x2Offset": 34.9},
"encoding": {"x": {"field": "n", "type": "quantitative", "scale": {"domain": [-4.6885, 19.4336], "nice": false, "zero": false}, "axis": null}, "x2": {"field": "n"}, "y": {"datum": -31.14, "type": "quantitative"}, "y2": {"datum": -33.71}}
},
{
"data": {"name": "table"},
"transform": [{"window": [{"op": "row_number", "as": "n"}]}],
"mark": {"type": "text", "font": "Noto Sans CJK JP", "fontSize": 15, "align": "center", "baseline": "middle", "color": "#222222"},
"encoding": {"x": {"field": "n", "type": "quantitative", "scale": {"domain": [-4.6885, 19.4336], "nice": false, "zero": false}, "axis": null}, "y": {"datum": -32.43, "type": "quantitative"}, "text": {"field": "month"}}
},
{
"data": {"name": "table"},
"transform": [{"window": [{"op": "row_number", "as": "n"}]}],
"mark": {"type": "rect", "fill": "#EDEDED", "stroke": "#595959", "strokeWidth": 1, "xOffset": -34.9, "x2Offset": 34.9},
"encoding": {"x": {"field": "n", "type": "quantitative", "scale": {"domain": [-4.6885, 19.4336], "nice": false, "zero": false}, "axis": null}, "x2": {"field": "n"}, "y": {"datum": -33.71, "type": "quantitative"}, "y2": {"datum": -38.26}}
},
{
"data": {"name": "table"},
"transform": [{"window": [{"op": "row_number", "as": "n"}]}],
"mark": {"type": "text", "font": "Noto Sans CJK JP", "fontSize": 21, "fontWeight": "bold", "align": "center", "baseline": "middle", "color": "black"},
"encoding": {"x": {"field": "n", "type": "quantitative", "scale": {"domain": [-4.6885, 19.4336], "nice": false, "zero": false}, "axis": null}, "y": {"datum": -35.98, "type": "quantitative"}, "text": {"field": "value"}}
},
{
"data": {"values": [{}]},
"mark": {"type": "rect", "fillOpacity": 0, "stroke": "#404040", "strokeWidth": 2},
"encoding": {"x": {"datum": 0.5, "type": "quantitative", "scale": {"domain": [-4.6885, 19.4336], "nice": false, "zero": false}, "axis": null}, "x2": {"datum": 13.5}, "y": {"datum": -28.58, "type": "quantitative"}, "y2": {"datum": -38.26}}
}
]
}
],
"resolve": {"scale": {"x": "independent"}}
}
